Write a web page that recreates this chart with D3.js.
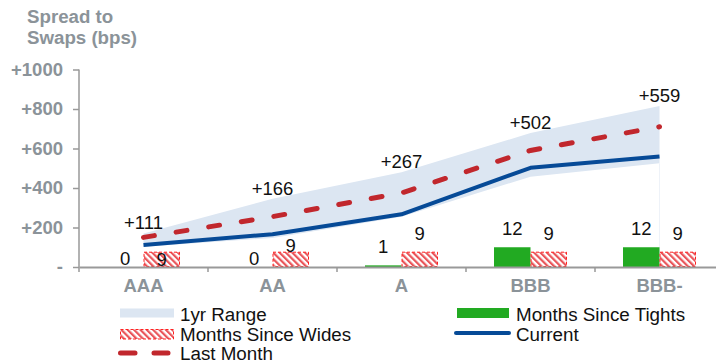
<!DOCTYPE html>
<html>
<head>
<meta charset="utf-8">
<script src="https://cdn.jsdelivr.net/npm/d3@7"></script>
<style>
  html, body { margin: 0; padding: 0; background: #fff; }
  svg { display: block; font-family: "Liberation Sans", Arial, sans-serif; }
</style>
</head>
<body>
<svg id="chart" width="716" height="364"></svg>
<script>
// ---- data ----
const categories = ["AAA", "AA", "A", "BBB", "BBB-"];
const current = [111, 166, 267, 502, 559];
const lastMonth = [150, 255, 375, 590, 710];
const rangeLow = [103, 147, 255, 457, 525];
const rangeHigh = [170, 345, 480, 678, 815];
const monthsSinceTights = [0, 0, 1, 12, 12];
const monthsSinceWides = [9, 9, 9, 9, 9];
const yTickValues = [0, 200, 400, 600, 800, 1000];
const yTickLabels = ["-", "+200", "+400", "+600", "+800", "+1000"];

// ---- layout (label nudges, not data) ----
const tightsLabelNudge = [10, 10, 0, 0, 0];
const widesLabelNudge = [26, 12, 0, 0, 0];

const gray = "#8b9399";
const svg = d3.select("#chart");

const x = d3.scaleBand().domain(categories).range([79, 724]).padding(0);
const y = d3.scaleLinear().domain([0, 1000]).range([267, 69.5]);
const yBar = d3.scaleLinear().domain([0, 120]).range([267, 69.5]);
const cx = c => x(c) + x.bandwidth() / 2;
const barW = 36.5;

// defs: hatch pattern
const defs = svg.append("defs");
const pat = defs.append("pattern")
  .attr("id", "hatch").attr("patternUnits", "userSpaceOnUse")
  .attr("width", 4.5).attr("height", 4.5)
  .attr("patternTransform", "rotate(-45)");
pat.append("rect").attr("width", 4.5).attr("height", 4.5).attr("fill", "#fff");
pat.append("rect").attr("width", 2.2).attr("height", 4.5).attr("fill", "#e9555a");

// title
svg.append("text").attr("x", 27).attr("y", 23)
  .attr("font-size", 18.7).attr("font-weight", "bold").attr("fill", gray).text("Spread to");
svg.append("text").attr("x", 27).attr("y", 44)
  .attr("font-size", 18.7).attr("font-weight", "bold").attr("fill", gray).text("Swaps (bps)");

// range band
const pts = categories.map((c, i) => ({ c, lo: rangeLow[i], hi: rangeHigh[i], cur: current[i], lm: lastMonth[i] }));
svg.append("path").datum(pts)
  .attr("fill", "#dce6f2")
  .attr("d", d3.area().x(d => cx(d.c)).y0(d => y(d.lo)).y1(d => y(d.hi)));
// faint edge at end of band
svg.append("line")
  .attr("x1", cx(categories[4])).attr("x2", cx(categories[4]))
  .attr("y1", y(rangeLow[4])).attr("y2", y(0))
  .attr("stroke", "#eef2f8").attr("stroke-width", 1);

// bars
svg.append("g").selectAll("rect").data(categories).join("rect")
  .attr("x", c => cx(c) - barW).attr("width", barW)
  .attr("y", (c, i) => yBar(monthsSinceTights[i]))
  .attr("height", (c, i) => yBar(0) - yBar(monthsSinceTights[i]))
  .attr("fill", "#22aa22");
svg.append("g").selectAll("rect").data(categories).join("rect")
  .attr("x", c => cx(c) + 0.5).attr("width", barW - 1)
  .attr("y", (c, i) => yBar(monthsSinceWides[i]))
  .attr("height", (c, i) => yBar(0) - yBar(monthsSinceWides[i]) - 0.5)
  .attr("fill", "url(#hatch)")
  .attr("stroke", "#ff2020").attr("stroke-width", 1).attr("stroke-dasharray", "3,2");

// axes
const axisColor = "#999";
const yAxis = svg.append("g").attr("transform", "translate(79,0)")
  .call(d3.axisLeft(y).tickValues(yTickValues).tickSize(6).tickPadding(10)
    .tickFormat((d, i) => yTickLabels[i]));
yAxis.select(".domain").attr("stroke", axisColor).attr("stroke-width", 1.5).attr("d", "M0,69.5V267");
yAxis.selectAll(".tick line").attr("stroke", axisColor).attr("stroke-width", 1.5);
yAxis.selectAll(".tick text").attr("font-size", 18.5).attr("font-weight", "bold")
  .attr("fill", gray).attr("font-family", "Liberation Sans, Arial, sans-serif");

const xAxis = svg.append("g").attr("transform", "translate(0,267)")
  .call(d3.axisBottom(x).tickSize(0).tickPadding(12));
xAxis.select(".domain").attr("stroke", axisColor).attr("stroke-width", 2);
xAxis.selectAll(".tick text").attr("font-size", 18.5).attr("font-weight", "bold")
  .attr("fill", gray).attr("font-family", "Liberation Sans, Arial, sans-serif");
// boundary ticks
svg.append("g").selectAll("line").data(categories).join("line")
  .attr("x1", c => x(c)).attr("x2", c => x(c))
  .attr("y1", 267).attr("y2", 272)
  .attr("stroke", axisColor).attr("stroke-width", 1.5);

// lines
svg.append("path").datum(pts)
  .attr("fill", "none").attr("stroke", "#c1272d").attr("stroke-width", 5)
  .attr("stroke-linecap", "round").attr("stroke-dasharray", "11,22")
  .attr("d", d3.line().x(d => cx(d.c)).y(d => y(d.lm)));
svg.append("path").datum(pts)
  .attr("fill", "none").attr("stroke", "#064a97").attr("stroke-width", 4)
  .attr("stroke-linejoin", "round")
  .attr("d", d3.line().x(d => cx(d.c)).y(d => y(d.cur)));

// labels
svg.append("g").selectAll("text").data(pts).join("text")
  .attr("x", d => cx(d.c)).attr("y", d => y(d.hi) - 4)
  .attr("text-anchor", "middle").attr("font-size", 18.5).attr("fill", "#111")
  .text(d => "+" + d.cur);
svg.append("g").selectAll("text").data(categories).join("text")
  .attr("x", c => cx(c) - barW / 2)
  .attr("y", (c, i) => yBar(monthsSinceTights[i]) - 12 + tightsLabelNudge[i])
  .attr("text-anchor", "middle").attr("font-size", 18.5).attr("fill", "#111")
  .text((c, i) => monthsSinceTights[i]);
svg.append("g").selectAll("text").data(categories).join("text")
  .attr("x", c => cx(c) + barW / 2)
  .attr("y", (c, i) => yBar(monthsSinceWides[i]) - 12 + widesLabelNudge[i])
  .attr("text-anchor", "middle").attr("font-size", 18.5).attr("fill", "#111")
  .text((c, i) => monthsSinceWides[i]);

// legend
const lg = svg.append("g").attr("font-size", 18.8).attr("fill", "#111");
lg.append("rect").attr("x", 120).attr("y", 308.5).attr("width", 54).attr("height", 9).attr("fill", "#dce6f2");
lg.append("text").attr("x", 180).attr("y", 321).text("1yr Range");
lg.append("rect").attr("x", 120.5).attr("y", 329.5).attr("width", 53).attr("height", 9.5)
  .attr("fill", "url(#hatch)").attr("stroke", "#ff2020").attr("stroke-width", 1).attr("stroke-dasharray", "3,2");
lg.append("text").attr("x", 180).attr("y", 340.5).text("Months Since Wides");
lg.append("line").attr("x1", 120.5).attr("x2", 168).attr("y1", 353).attr("y2", 353)
  .attr("stroke", "#c1272d").attr("stroke-width", 5).attr("stroke-linecap", "round")
  .attr("stroke-dasharray", "14.5,19");
lg.append("text").attr("x", 180).attr("y", 360).text("Last Month");
lg.append("rect").attr("x", 457).attr("y", 308).attr("width", 52).attr("height", 10).attr("fill", "#22aa22");
lg.append("text").attr("x", 516).attr("y", 321).text("Months Since Tights");
lg.append("line").attr("x1", 456).attr("x2", 509).attr("y1", 333).attr("y2", 333)
  .attr("stroke", "#064a97").attr("stroke-width", 4).attr("stroke-linecap", "round");
lg.append("text").attr("x", 516).attr("y", 341).text("Current");
</script>
</body>
</html>
